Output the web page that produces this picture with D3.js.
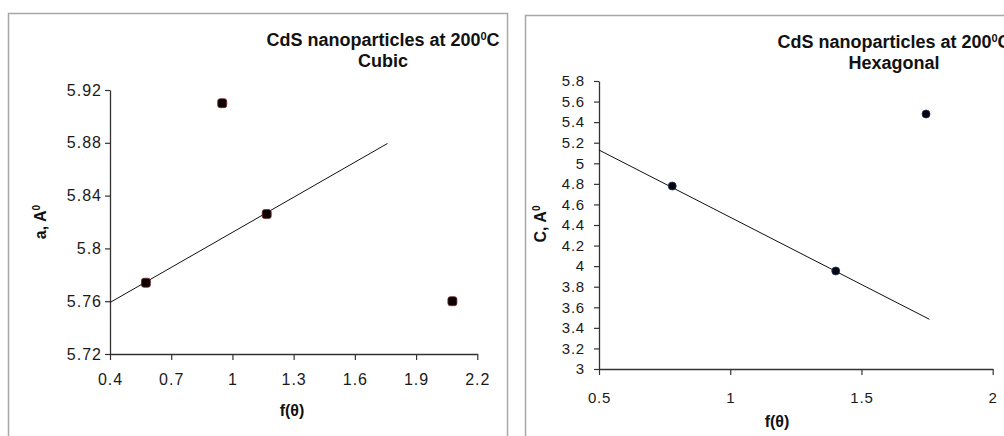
<!DOCTYPE html>
<html>
<head>
<meta charset="utf-8">
<script src="https://cdn.jsdelivr.net/npm/d3@7"></script>
<style>
  body { margin: 0; background: #fff; }
  text { font-family: "Liberation Sans", Arial, sans-serif; }
</style>
</head>
<body>
<div id="chart"></div>
<script>
// cubic panel: lattice constant a vs f(theta)
var cubicX = [0.576, 0.95, 1.168, 2.078];
var cubicA = [5.774, 5.91, 5.826, 5.76];
var cubicFitX = [0.4, 1.76];
var cubicFitY = [5.759, 5.8795];
var cubicXTicks = [0.4, 0.7, 1, 1.3, 1.6, 1.9, 2.2];
var cubicYTicks = [5.72, 5.76, 5.8, 5.84, 5.88, 5.92];

// hexagonal panel: lattice constant c vs f(theta)
var hexX = [0.779, 1.402, 1.746];
var hexC = [4.779, 3.953, 5.479];
var hexFitX = [0.5, 1.759];
var hexFitY = [5.129, 3.483];
var hexXTicks = [0.5, 1, 1.5, 2];
var hexYTicks = [3, 3.2, 3.4, 3.6, 3.8, 4, 4.2, 4.4, 4.6, 4.8, 5, 5.2, 5.4, 5.6, 5.8];

var svg = d3.select("#chart")
    .append("svg")
    .attr("width", 1004)
    .attr("height", 436);

// panel frames
svg.append("rect")
    .attr("x", 8.5).attr("y", 13.5)
    .attr("width", 499).attr("height", 500)
    .attr("fill", "none").attr("stroke", "#a8a8a8").attr("stroke-width", 1.5);
svg.append("rect")
    .attr("x", 525.5).attr("y", 15.5)
    .attr("width", 600).attr("height", 500)
    .attr("fill", "none").attr("stroke", "#a8a8a8").attr("stroke-width", 1.5);

function drawPanel(p) {
    var x = d3.scaleLinear().domain(p.xDomain).range(p.xRange);
    var y = d3.scaleLinear().domain(p.yDomain).range(p.yRange);
    var g = svg.append("g");

    var xAxis = g.append("g")
        .attr("transform", "translate(0," + p.yRange[0] + ")")
        .call(d3.axisBottom(x).tickValues(p.xTicks).tickSize(6).tickSizeOuter(0).tickPadding(p.xPad).tickFormat(d3.format("")));
    var yAxis = g.append("g")
        .attr("transform", "translate(" + p.xRange[0] + ",0)")
        .call(d3.axisLeft(y).tickValues(p.yTicks).tickSize(5).tickSizeOuter(0).tickPadding(p.yPad).tickFormat(d3.format("")));

    [xAxis, yAxis].forEach(function (a) {
        a.select(".domain").attr("stroke", "#333").attr("stroke-width", 1.3);
        a.selectAll(".tick line").attr("stroke", "#333").attr("stroke-width", 1.2);
        a.selectAll(".tick text")
            .attr("fill", "#1a1a1a")
            .style("font-size", p.tickFont + "px")
            .style("letter-spacing", p.tickSpacing + "px")
            .style("font-family", "'Liberation Sans', Arial, sans-serif");
    });

    // trendline
    g.append("line")
        .attr("x1", x(p.fitX[0])).attr("y1", y(p.fitY[0]))
        .attr("x2", x(p.fitX[1])).attr("y2", y(p.fitY[1]))
        .attr("stroke", "#111").attr("stroke-width", 1);

    var pts = p.xs.map(function (d, i) { return [d, p.ys[i]]; });
    if (p.marker === "square") {
        g.selectAll(".pt").data(pts).enter().append("rect")
            .attr("x", function (d) { return x(d[0]) - 4.5; })
            .attr("y", function (d) { return y(d[1]) - 4.5; })
            .attr("width", 9).attr("height", 9)
            .attr("rx", 2.5)
            .attr("fill", "#0a0000")
            .attr("stroke", "#7a2a2a").attr("stroke-width", 0.8);
    } else {
        g.selectAll(".pt").data(pts).enter().append("circle")
            .attr("cx", function (d) { return x(d[0]); })
            .attr("cy", function (d) { return y(d[1]); })
            .attr("r", 4)
            .attr("fill", "#05050f")
            .attr("stroke", "#23345a").attr("stroke-width", 0.8);
    }

    // title
    var t = g.append("text")
        .attr("x", p.titleX).attr("y", p.titleY)
        .attr("text-anchor", "middle")
        .style("font-size", "18px").style("font-weight", "bold")
        .attr("fill", "#111");
    t.append("tspan").text("CdS nanoparticles at 200");
    t.append("tspan").text("0").style("font-size", "11px").attr("dy", -6);
    t.append("tspan").text("C").attr("dy", 6);
    g.append("text")
        .attr("x", p.titleX).attr("y", p.titleY + 21)
        .attr("text-anchor", "middle")
        .style("font-size", "18px").style("font-weight", "bold")
        .attr("fill", "#111")
        .text(p.subtitle);

    // axis titles
    g.append("text")
        .attr("x", p.xTitleX).attr("y", p.xTitleY)
        .attr("text-anchor", "middle")
        .style("font-size", "16px").style("font-weight", "bold")
        .attr("fill", "#111")
        .text("f(\u03b8)");
    var yt = g.append("text")
        .attr("transform", "translate(" + p.yTitleX + "," + p.yTitleY + ") rotate(-90)")
        .attr("text-anchor", "middle")
        .style("font-size", "16px").style("font-weight", "bold")
        .attr("fill", "#111");
    yt.append("tspan").text(p.yLabel + ", A");
    yt.append("tspan").text("0").style("font-size", "10px").attr("dy", -6);
}

drawPanel({
    xDomain: [0.4, 2.2], xRange: [110, 477.3],
    yDomain: [5.72, 5.92], yRange: [354, 90],
    xTicks: cubicXTicks, yTicks: cubicYTicks,
    xPad: 14, yPad: 3, tickFont: 16, tickSpacing: 1,
    xs: cubicX, ys: cubicA, fitX: cubicFitX, fitY: cubicFitY,
    marker: "square",
    titleX: 383, titleY: 46, subtitle: "Cubic",
    xTitleX: 292, xTitleY: 416,
    yTitleX: 46, yTitleY: 222, yLabel: "a"
});

drawPanel({
    xDomain: [0.5, 2], xRange: [599, 992.7],
    yDomain: [3, 5.8], yRange: [369, 81],
    xTicks: hexXTicks, yTicks: hexYTicks,
    xPad: 17, yPad: 9, tickFont: 15, tickSpacing: 0.8,
    xs: hexX, ys: hexC, fitX: hexFitX, fitY: hexFitY,
    marker: "circle",
    titleX: 894, titleY: 48, subtitle: "Hexagonal",
    xTitleX: 777, xTitleY: 427,
    yTitleX: 546, yTitleY: 224, yLabel: "C"
});
</script>
</body>
</html>
